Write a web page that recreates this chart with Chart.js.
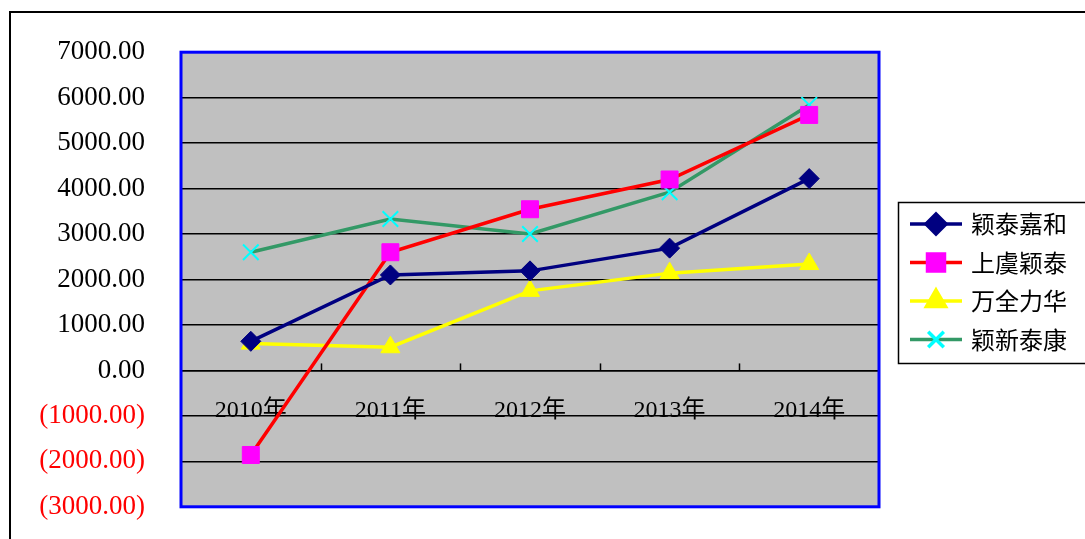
<!DOCTYPE html>
<html>
<head>
<meta charset="utf-8">
<script src="https://cdn.jsdelivr.net/npm/chart.js@4/dist/chart.umd.min.js"></script>
<style>
  html, body { margin: 0; padding: 0; background: #fff; overflow: hidden; }
  #wrap { width: 1085px; height: 559px; position: relative; }
</style>
</head>
<body>
<div id="wrap"><canvas id="myChart"></canvas></div>
<script>
// data
const years = ['2010年', '2011年', '2012年', '2013年', '2014年'];
const yingtaiJiahe = [640, 2100, 2190, 2690, 4220];
const shangyuYingtai = [-1860, 2600, 3545, 4200, 5620];
const wanquanLihua = [590, 510, 1750, 2140, 2340];
const yingxinTaikang = [2600, 3330, 3000, 3920, 5840];
const yTicks = [-3000, -2000, -1000, 0, 1000, 2000, 3000, 4000, 5000, 6000, 7000];

const serif = '"Liberation Serif", "DejaVu Serif", "Noto Sans CJK SC", serif';
const cjk = '"Noto Sans CJK SC", sans-serif';

// gray plot area, outer frame
const background = {
  id: 'background',
  beforeDraw(chart) {
    const { ctx, chartArea: a } = chart;
    ctx.save();
    ctx.strokeStyle = '#000';
    ctx.lineWidth = 2;
    ctx.strokeRect(10, 12, 1200, 600);
    ctx.fillStyle = '#c0c0c0';
    ctx.fillRect(a.left, a.top, a.right - a.left, a.bottom - a.top);
    ctx.restore();
  }
};

// blue frame, small category ticks on the zero line
const frame = {
  id: 'frame',
  afterDatasetsDraw(chart) {
    const { ctx, chartArea: a, scales } = chart;
    const xs = scales.x, y0 = scales.y.getPixelForValue(0);
    ctx.save();
    ctx.strokeStyle = '#000';
    ctx.lineWidth = 1.5;
    for (let i = 1; i < years.length; i++) {
      const x = Math.round((xs.getPixelForValue(i - 1) + xs.getPixelForValue(i)) / 2) + 0.5;
      ctx.beginPath();
      ctx.moveTo(x, y0);
      ctx.lineTo(x, y0 - 7);
      ctx.stroke();
    }
    ctx.strokeStyle = '#0000ff';
    ctx.lineWidth = 3;
    ctx.strokeRect(a.left, a.top, a.right - a.left, a.bottom - a.top);
    ctx.restore();
  }
};

// legend with line + marker like the original
const legendBox = {
  id: 'legendBox',
  afterDraw(chart) {
    const { ctx } = chart;
    ctx.save();
    ctx.strokeStyle = '#000';
    ctx.lineWidth = 1.5;
    ctx.strokeRect(898.5, 202.5, 200, 161);
    chart.data.datasets.forEach((ds, i) => {
      const y = 224 + i * 38.5;
      ctx.strokeStyle = ds.borderColor;
      ctx.lineWidth = 3.5;
      ctx.beginPath();
      ctx.moveTo(910, y);
      ctx.lineTo(962, y);
      ctx.stroke();
      ctx.fillStyle = ds.pointBackgroundColor;
      ctx.strokeStyle = ds.pointBorderColor;
      Chart.helpers.drawPoint(ctx, {
        pointStyle: ds.pointStyle, radius: ds.pointRadius, rotation: 0,
        borderWidth: ds.pointBorderWidth
      }, 936, y);
      ctx.fillStyle = '#000';
      ctx.font = '24px ' + cjk;
      ctx.textBaseline = 'middle';
      ctx.fillText(ds.label, 971, y);
    });
    ctx.restore();
  }
};

function series(label, values, line, marker, style, radius, bw) {
  return {
    label, data: values,
    borderColor: line, borderWidth: 3.5,
    pointStyle: style, pointRadius: radius, pointHoverRadius: radius,
    pointBackgroundColor: marker, pointBorderColor: marker, pointBorderWidth: bw,
    tension: 0
  };
}

new Chart(document.getElementById('myChart'), {
  type: 'line',
  data: {
    labels: years,
    datasets: [
      series('颖泰嘉和', yingtaiJiahe, '#000080', '#000080', 'rectRot', 10, 1),
      series('上虞颖泰', shangyuYingtai, '#ff0000', '#ff00ff', 'rect', 12, 1),
      series('万全力华', wanquanLihua, '#ffff00', '#ffff00', 'triangle', 11, 1),
      series('颖新泰康', yingxinTaikang, '#339966', '#00ffff', 'crossRot', 11, 2)
    ]
  },
  options: {
    responsive: true,
    maintainAspectRatio: false,
    animation: false,
    layout: { padding: { left: 0, right: 206, top: 46, bottom: 0 } },
    plugins: { legend: { display: false }, tooltip: { enabled: false } },
    scales: {
      x: {
        position: { y: 0 },
        offset: true,
        grid: { display: false, drawTicks: false },
        border: { display: true, color: '#000', width: 1.5 },
        ticks: { color: '#000', padding: 26, font: { family: serif, size: 24 } }
      },
      y: {
        min: -3000, max: 7000,
        afterFit(s) { s.width = 181; },
        afterBuildTicks(s) { s.ticks = yTicks.map(v => ({ value: v })); },
        grid: { color: '#000', lineWidth: 1.5, drawTicks: false },
        border: { display: false },
        ticks: {
          padding: 36,
          font: { family: serif, size: 27 },
          color: c => c.tick && c.tick.value < 0 ? '#ff0000' : '#000',
          callback: v => v < 0 ? '(' + Math.abs(v).toFixed(2) + ')' : v.toFixed(2)
        }
      }
    }
  },
  plugins: [background, frame, legendBox]
});
</script>
</body>
</html>
